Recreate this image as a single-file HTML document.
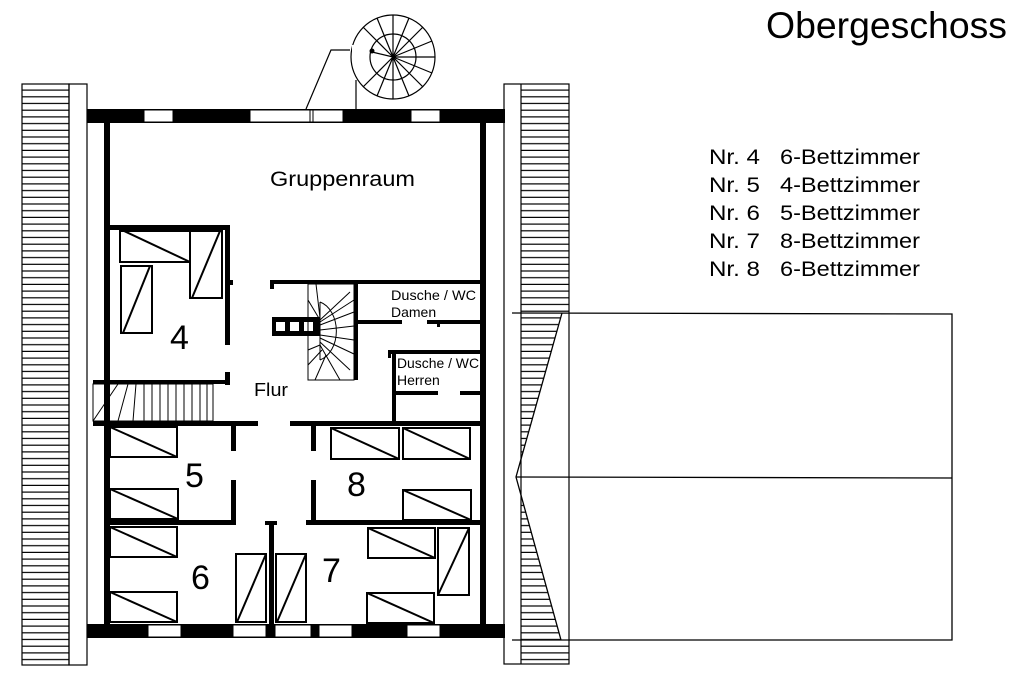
<!DOCTYPE html>
<html><head><meta charset="utf-8"><style>
html,body{margin:0;padding:0;background:#fff}
svg{display:block}
text{font-family:"Liberation Sans",sans-serif;fill:#000}
</style></head><body>
<svg width="1024" height="679" viewBox="0 0 1024 679" xmlns="http://www.w3.org/2000/svg">
<defs>
<pattern id="h" x="0" y="84" width="10" height="6.7" patternUnits="userSpaceOnUse">
<rect width="10" height="6.7" fill="#fff"/><rect y="5.5" width="10" height="1.2" fill="#000"/>
</pattern>
<clipPath id="rc"><polygon points="521,84 569,84 569,313 562,313 516,477 561,640 569,640 569,664 521,664"/></clipPath>
</defs>
<!-- title & legend -->
<text x="766" y="38" font-size="37" textLength="241" lengthAdjust="spacingAndGlyphs">Obergeschoss</text>
<g font-size="21">
<text x="709" y="164" textLength="51" lengthAdjust="spacingAndGlyphs">Nr. 4</text><text x="780" y="164" textLength="140" lengthAdjust="spacingAndGlyphs">6-Bettzimmer</text>
<text x="709" y="192" textLength="51" lengthAdjust="spacingAndGlyphs">Nr. 5</text><text x="780" y="192" textLength="140" lengthAdjust="spacingAndGlyphs">4-Bettzimmer</text>
<text x="709" y="220" textLength="51" lengthAdjust="spacingAndGlyphs">Nr. 6</text><text x="780" y="220" textLength="140" lengthAdjust="spacingAndGlyphs">5-Bettzimmer</text>
<text x="709" y="248" textLength="51" lengthAdjust="spacingAndGlyphs">Nr. 7</text><text x="780" y="248" textLength="140" lengthAdjust="spacingAndGlyphs">8-Bettzimmer</text>
<text x="709" y="276" textLength="51" lengthAdjust="spacingAndGlyphs">Nr. 8</text><text x="780" y="276" textLength="140" lengthAdjust="spacingAndGlyphs">6-Bettzimmer</text>
</g>
<!-- left roof strip -->
<rect x="22" y="84" width="47" height="581" fill="url(#h)" stroke="#000" stroke-width="1.2"/>
<rect x="69" y="84" width="18" height="581" fill="none" stroke="#000" stroke-width="1.2"/>
<!-- right roof strip -->
<rect x="521" y="84" width="48" height="580" fill="url(#h)" clip-path="url(#rc)"/>
<rect x="504" y="84" width="65" height="580" fill="none" stroke="#000" stroke-width="1.2"/>
<line x1="521" y1="84" x2="521" y2="664" stroke="#000" stroke-width="1.2"/>
<!-- annex -->
<g stroke="#000" stroke-width="1.3" fill="none">
<polyline points="512,313 952,314 952,640 512,640"/>
<line x1="516" y1="477" x2="952" y2="478"/>
<polyline points="562,313 516,477 561,640"/>
</g>
<!-- top wall -->
<rect x="87" y="109" width="418" height="14" fill="#000"/>
<g fill="#fff" stroke="#000" stroke-width="1">
<rect x="144" y="110" width="29" height="12"/>
<rect x="250" y="110" width="93" height="12"/>
<rect x="411" y="110" width="29" height="12"/>
</g>
<line x1="310" y1="109" x2="310" y2="123" stroke="#000" stroke-width="1"/>
<line x1="313" y1="109" x2="313" y2="123" stroke="#000" stroke-width="1"/>
<!-- spiral stair -->
<g stroke="#000" stroke-width="1.2" fill="none">
<circle cx="393" cy="57" r="42"/>
<circle cx="393" cy="57" r="23"/>
<polyline points="306,109 331,50 350,50"/>
<line x1="356" y1="80" x2="356" y2="109"/>
<line x1="393" y1="57" x2="435" y2="57"/>
<line x1="393" y1="57" x2="432" y2="73"/>
<line x1="393" y1="57" x2="423" y2="87"/>
<line x1="393" y1="57" x2="409" y2="96"/>
<line x1="393" y1="57" x2="393" y2="99"/>
<line x1="393" y1="57" x2="377" y2="96"/>
<line x1="393" y1="57" x2="363" y2="87"/>
<line x1="393" y1="57" x2="377" y2="18"/>
<line x1="393" y1="57" x2="393" y2="15"/>
<line x1="393" y1="57" x2="409" y2="18"/>
<line x1="393" y1="57" x2="423" y2="27"/>
<line x1="393" y1="57" x2="432" y2="41"/>
<line x1="393" y1="57" x2="363" y2="27"/>
<line x1="393" y1="57" x2="372" y2="52"/>
</g>
<rect x="352" y="45" width="8" height="13" fill="#fff"/>
<circle cx="372" cy="51" r="2.5" fill="#000"/>
<!-- bottom wall -->
<rect x="87" y="624" width="418" height="14" fill="#000"/>
<g fill="#fff" stroke="#000" stroke-width="1">
<rect x="148" y="625" width="33" height="12"/>
<rect x="233" y="625" width="33" height="12"/>
<rect x="275" y="625" width="36" height="12"/>
<rect x="319" y="625" width="33" height="12"/>
<rect x="407" y="625" width="33" height="12"/>
</g>
<!-- outer side walls -->
<rect x="104" y="122" width="6" height="503" fill="#000"/>
<rect x="480" y="122" width="6" height="503" fill="#000"/>
<!-- interior walls -->
<g fill="#000">
<rect x="107" y="225" width="122" height="5"/>
<rect x="225" y="225" width="5" height="120"/>
<rect x="229" y="280" width="4" height="5"/>
<rect x="225" y="372" width="5" height="13"/>
<rect x="93" y="380" width="137" height="4"/>
<rect x="93" y="421" width="165" height="5"/>
<rect x="290" y="421" width="191" height="5"/>
<rect x="270" y="280" width="211" height="4"/>
<rect x="270" y="284" width="4" height="5"/>
<rect x="354" y="282" width="4" height="98"/>
<rect x="358" y="320" width="44" height="4"/>
<rect x="427" y="320" width="54" height="4"/>
<rect x="437" y="324" width="3" height="3"/>
<rect x="388" y="350" width="93" height="4"/>
<rect x="388" y="354" width="3" height="4"/>
<rect x="392" y="354" width="4" height="69"/>
<rect x="395" y="391" width="43" height="4"/>
<rect x="460" y="391" width="21" height="4"/>
<rect x="231" y="423" width="5" height="28"/>
<rect x="231" y="480" width="5" height="45"/>
<rect x="311" y="423" width="5" height="28"/>
<rect x="311" y="480" width="5" height="45"/>
<rect x="107" y="520" width="129" height="5"/>
<rect x="306" y="520" width="175" height="5"/>
<rect x="269" y="522" width="5" height="103"/>
<rect x="265" y="521" width="12" height="4"/>
</g>
<!-- three-square block -->
<rect x="272" y="317" width="48" height="19" fill="#000"/>
<g fill="#fff"><rect x="276" y="322" width="9" height="9"/><rect x="290" y="322" width="9" height="9"/><rect x="304" y="322" width="9" height="9"/></g>
<!-- interior stair -->
<g stroke="#000" stroke-width="1" fill="none">
<rect x="308" y="284" width="46" height="96"/>
<path d="M320,302 A22,30 0 0 1 320,360"/>
<line x1="320" y1="302" x2="320" y2="360"/>
<line x1="320" y1="320" x2="350" y2="292"/><line x1="320" y1="322" x2="354" y2="300"/>
<line x1="320" y1="325" x2="354" y2="312"/><line x1="320" y1="330" x2="354" y2="326"/>
<line x1="320" y1="335" x2="354" y2="340"/><line x1="320" y1="338" x2="354" y2="354"/>
<line x1="320" y1="342" x2="350" y2="370"/><line x1="320" y1="345" x2="340" y2="380"/>
<line x1="316" y1="284" x2="320" y2="318"/><line x1="308" y1="300" x2="320" y2="320"/>
<line x1="308" y1="350" x2="320" y2="345"/><line x1="308" y1="365" x2="322" y2="350"/>
<line x1="315" y1="380" x2="326" y2="355"/>
</g>
<!-- left stair -->
<g stroke="#000" stroke-width="1" fill="none">
<rect x="93" y="384" width="120" height="37"/>
<line x1="93" y1="421" x2="118" y2="384"/><line x1="118" y1="421" x2="128" y2="384"/>
<line x1="133" y1="421" x2="136" y2="384"/>
<line x1="144" y1="384" x2="144" y2="421"/><line x1="152" y1="384" x2="152" y2="421"/>
<line x1="160" y1="384" x2="160" y2="421"/><line x1="168" y1="384" x2="168" y2="421"/>
<line x1="176" y1="384" x2="176" y2="421"/><line x1="184" y1="384" x2="184" y2="421"/>
<line x1="192" y1="384" x2="192" y2="421"/><line x1="200" y1="384" x2="200" y2="421"/>
<line x1="207" y1="384" x2="207" y2="421"/>
</g>
<!-- beds -->
<g stroke="#000" stroke-width="2" fill="none">
<rect x="120" y="231" width="70" height="31"/><line x1="124" y1="231" x2="190" y2="262"/>
<rect x="190" y="231" width="32" height="67"/><line x1="192" y1="298" x2="220" y2="231"/>
<rect x="121" y="266" width="31" height="67"/><line x1="123" y1="333" x2="150" y2="266"/>
<rect x="110" y="427" width="67" height="30"/><line x1="110" y1="427" x2="177" y2="457"/>
<rect x="110" y="489" width="68" height="30"/><line x1="110" y1="489" x2="178" y2="519"/>
<rect x="110" y="527" width="67" height="30"/><line x1="110" y1="527" x2="177" y2="557"/>
<rect x="110" y="592" width="67" height="30"/><line x1="110" y1="592" x2="177" y2="622"/>
<rect x="236" y="554" width="30" height="68"/><line x1="237" y1="622" x2="266" y2="554"/>
<rect x="276" y="554" width="30" height="68"/><line x1="277" y1="622" x2="306" y2="554"/>
<rect x="331" y="428" width="68" height="31"/><line x1="331" y1="428" x2="399" y2="459"/>
<rect x="403" y="428" width="67" height="31"/><line x1="403" y1="428" x2="470" y2="459"/>
<rect x="403" y="490" width="68" height="30"/><line x1="403" y1="490" x2="471" y2="520"/>
<rect x="368" y="528" width="67" height="30"/><line x1="368" y1="528" x2="435" y2="558"/>
<rect x="438" y="528" width="31" height="67"/><line x1="438" y1="595" x2="469" y2="528"/>
<rect x="367" y="593" width="67" height="30"/><line x1="367" y1="593" x2="434" y2="623"/>
</g>
<!-- labels -->
<text x="270" y="186" font-size="21" textLength="145" lengthAdjust="spacingAndGlyphs">Gruppenraum</text>
<text x="254" y="396" font-size="18" textLength="34" lengthAdjust="spacingAndGlyphs">Flur</text>
<g font-size="14">
<text x="391" y="300" textLength="85" lengthAdjust="spacingAndGlyphs">Dusche / WC</text><text x="391" y="317">Damen</text>
<text x="397" y="368" textLength="82" lengthAdjust="spacingAndGlyphs">Dusche / WC</text><text x="397" y="385">Herren</text>
</g>
<g font-size="34">
<text x="170" y="349">4</text>
<text x="185" y="487">5</text>
<text x="191" y="589">6</text>
<text x="322" y="582">7</text>
<text x="347" y="496">8</text>
</g>
</svg>
</body></html>
